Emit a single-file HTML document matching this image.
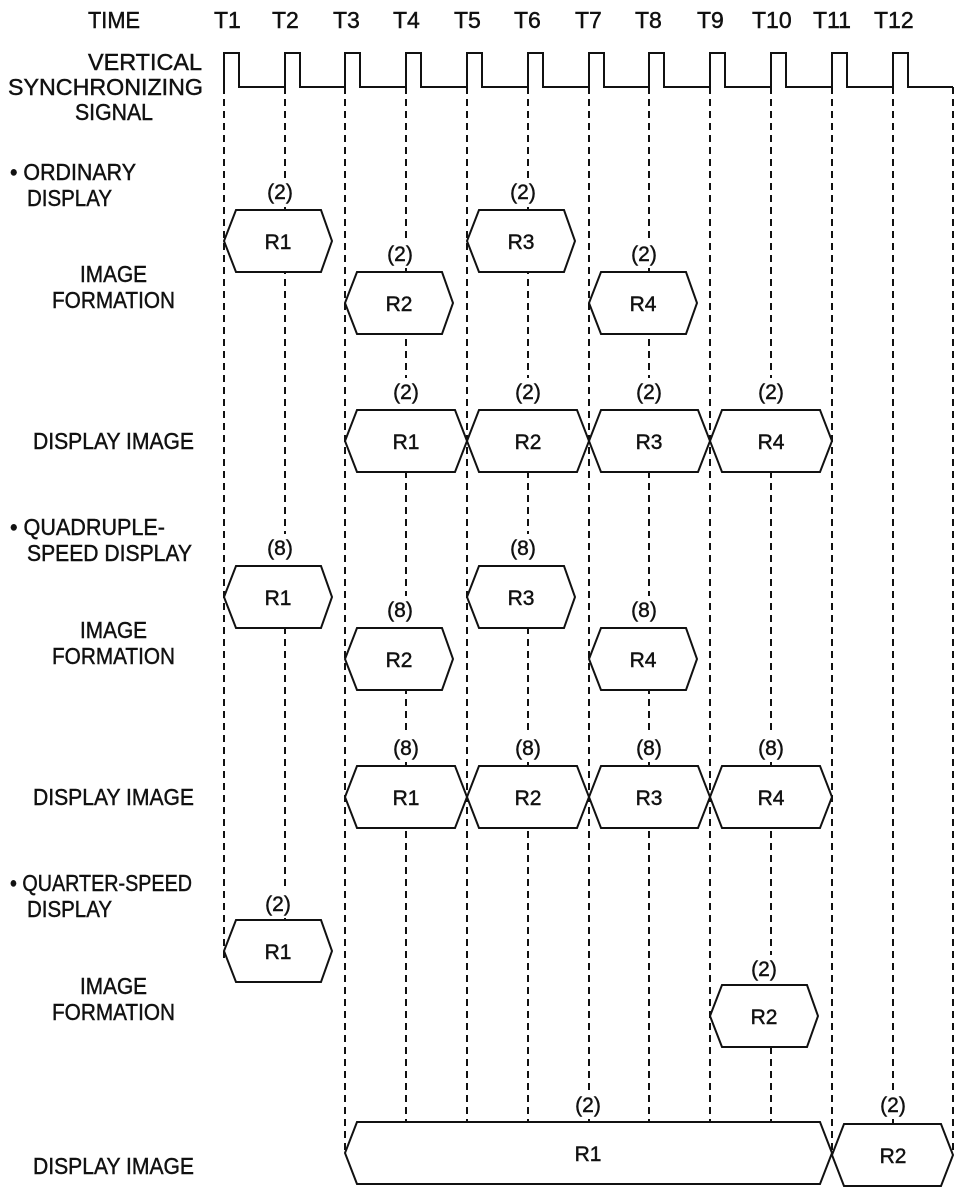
<!DOCTYPE html>
<html><head><meta charset="utf-8"><style>
html,body{margin:0;padding:0;background:#fff;}
svg{display:block;}
text{font-family:"Liberation Sans",Arial,sans-serif;fill:#111;stroke:#111;stroke-width:0.45;}
.l{font-size:23px;}
.s{font-size:21px;}
</style></head><body>
<svg width="967" height="1200" viewBox="0 0 967 1200" xmlns="http://www.w3.org/2000/svg">
<g stroke="#111" stroke-width="2" stroke-dasharray="7,5" fill="none">
<line x1="224" y1="87" x2="224" y2="958"/>
<line x1="285" y1="87" x2="285" y2="920"/>
<line x1="345" y1="87" x2="345" y2="1153"/>
<line x1="406" y1="87" x2="406" y2="1122"/>
<line x1="467" y1="87" x2="467" y2="1122"/>
<line x1="528" y1="87" x2="528" y2="1122"/>
<line x1="589" y1="87" x2="589" y2="1122"/>
<line x1="649" y1="87" x2="649" y2="1122"/>
<line x1="710" y1="87" x2="710" y2="1122"/>
<line x1="771" y1="87" x2="771" y2="1122"/>
<line x1="832" y1="87" x2="832" y2="1153"/>
<line x1="893" y1="87" x2="893" y2="1124"/>
<line x1="953" y1="87" x2="953" y2="1155"/>
</g>
<polyline fill="none" stroke="#111" stroke-width="2" points="224,87 224,53 239,53 239,87 285,87 285,53 300,53 300,87 345,87 345,53 360,53 360,87 406,87 406,53 421,53 421,87 467,87 467,53 482,53 482,87 528,87 528,53 543,53 543,87 589,87 589,53 604,53 604,87 649,87 649,53 664,53 664,87 710,87 710,53 725,53 725,87 771,87 771,53 786,53 786,87 832,87 832,53 847,53 847,87 893,87 893,53 908,53 908,87 953,87"/>
<g fill="#fff" stroke="#111" stroke-width="2">
<polygon points="224,241 236,210 321,210 332,241 321,272 236,272"/>
<polygon points="467,241 479,210 564,210 575,241 564,272 479,272"/>
<polygon points="345,303 357,272 442,272 453,303 442,334 357,334"/>
<polygon points="589,303 601,272 686,272 697,303 686,334 601,334"/>
<polygon points="345,441 357,410 455,410 467,441 455,472 357,472"/>
<polygon points="467,441 479,410 577,410 589,441 577,472 479,472"/>
<polygon points="589,441 601,410 698,410 710,441 698,472 601,472"/>
<polygon points="710,441 722,410 820,410 832,441 820,472 722,472"/>
<polygon points="224,597 236,566 321,566 332,597 321,628 236,628"/>
<polygon points="467,597 479,566 564,566 575,597 564,628 479,628"/>
<polygon points="345,659 357,628 442,628 453,659 442,690 357,690"/>
<polygon points="589,659 601,628 686,628 697,659 686,690 601,690"/>
<polygon points="345,797 357,766 455,766 467,797 455,828 357,828"/>
<polygon points="467,797 479,766 577,766 589,797 577,828 479,828"/>
<polygon points="589,797 601,766 698,766 710,797 698,828 601,828"/>
<polygon points="710,797 722,766 820,766 832,797 820,828 722,828"/>
<polygon points="224,951 236,920 321,920 332,951 321,982 236,982"/>
<polygon points="710,1016 722,985 807,985 818,1016 807,1047 722,1047"/>
<polygon points="345,1153 357,1122 820,1122 832,1153 820,1184 357,1184"/>
<polygon points="832,1155 844,1124 941,1124 953,1155 941,1186 844,1186"/>
</g>
<g fill="#fff">
<rect x="266" y="178" width="28" height="28"/><rect x="509" y="178" width="28" height="28"/>
<rect x="386" y="240" width="28" height="28"/><rect x="630" y="240" width="28" height="28"/>
<rect x="392" y="378" width="28" height="28"/><rect x="514" y="378" width="28" height="28"/><rect x="635" y="378" width="28" height="28"/><rect x="757" y="378" width="28" height="28"/>
<rect x="266" y="534" width="28" height="28"/><rect x="509" y="534" width="28" height="28"/>
<rect x="386" y="596" width="28" height="28"/><rect x="630" y="596" width="28" height="28"/>
<rect x="392" y="734" width="28" height="28"/><rect x="514" y="734" width="28" height="28"/><rect x="635" y="734" width="28" height="28"/><rect x="757" y="734" width="28" height="28"/>
<rect x="264" y="890" width="28" height="28"/><rect x="750" y="955" width="28" height="28"/>
<rect x="574" y="1091" width="28" height="28"/><rect x="879" y="1091" width="28" height="28"/>
</g>
<g class="l">
<text x="88" y="28" textLength="52" lengthAdjust="spacingAndGlyphs">TIME</text>
<text x="214" y="28">T1</text><text x="272" y="28">T2</text><text x="333" y="28">T3</text><text x="393" y="28">T4</text><text x="454" y="28">T5</text><text x="514" y="28">T6</text><text x="575" y="28">T7</text><text x="635" y="28">T8</text><text x="697" y="28">T9</text><text x="752" y="28">T10</text><text x="813" y="28">T11</text><text x="874" y="28">T12</text>
<text x="88" y="70" textLength="114" lengthAdjust="spacingAndGlyphs">VERTICAL</text>
<text x="8" y="95" textLength="195" lengthAdjust="spacingAndGlyphs">SYNCHRONIZING</text>
<text x="75" y="120" textLength="78" lengthAdjust="spacingAndGlyphs">SIGNAL</text>
<text x="10" y="180" textLength="126" lengthAdjust="spacingAndGlyphs">• ORDINARY</text>
<text x="27" y="206" textLength="85" lengthAdjust="spacingAndGlyphs">DISPLAY</text>
<text x="80" y="282" textLength="67" lengthAdjust="spacingAndGlyphs">IMAGE</text>
<text x="52" y="308" textLength="123" lengthAdjust="spacingAndGlyphs">FORMATION</text>
<text x="33" y="449" textLength="161" lengthAdjust="spacingAndGlyphs">DISPLAY IMAGE</text>
<text x="10" y="535" textLength="155" lengthAdjust="spacingAndGlyphs">• QUADRUPLE-</text>
<text x="27" y="561" textLength="165" lengthAdjust="spacingAndGlyphs">SPEED DISPLAY</text>
<text x="80" y="638" textLength="67" lengthAdjust="spacingAndGlyphs">IMAGE</text>
<text x="52" y="664" textLength="123" lengthAdjust="spacingAndGlyphs">FORMATION</text>
<text x="33" y="805" textLength="161" lengthAdjust="spacingAndGlyphs">DISPLAY IMAGE</text>
<text x="10" y="891" textLength="182" lengthAdjust="spacingAndGlyphs">• QUARTER-SPEED</text>
<text x="27" y="917" textLength="85" lengthAdjust="spacingAndGlyphs">DISPLAY</text>
<text x="80" y="994" textLength="67" lengthAdjust="spacingAndGlyphs">IMAGE</text>
<text x="52" y="1020" textLength="123" lengthAdjust="spacingAndGlyphs">FORMATION</text>
<text x="33" y="1174" textLength="161" lengthAdjust="spacingAndGlyphs">DISPLAY IMAGE</text>
</g>
<g class="s" text-anchor="middle">
<text x="280" y="199">(2)</text><text x="523" y="199">(2)</text><text x="400" y="261">(2)</text><text x="644" y="261">(2)</text>
<text x="278" y="249">R1</text><text x="521" y="249">R3</text><text x="399" y="311">R2</text><text x="643" y="311">R4</text>
<text x="406" y="399">(2)</text><text x="528" y="399">(2)</text><text x="649" y="399">(2)</text><text x="771" y="399">(2)</text>
<text x="406" y="449">R1</text><text x="528" y="449">R2</text><text x="649" y="449">R3</text><text x="771" y="449">R4</text>
<text x="280" y="555">(8)</text><text x="523" y="555">(8)</text><text x="400" y="617">(8)</text><text x="644" y="617">(8)</text>
<text x="278" y="605">R1</text><text x="521" y="605">R3</text><text x="399" y="667">R2</text><text x="643" y="667">R4</text>
<text x="406" y="755">(8)</text><text x="528" y="755">(8)</text><text x="649" y="755">(8)</text><text x="771" y="755">(8)</text>
<text x="406" y="805">R1</text><text x="528" y="805">R2</text><text x="649" y="805">R3</text><text x="771" y="805">R4</text>
<text x="278" y="911">(2)</text><text x="278" y="959">R1</text>
<text x="764" y="976">(2)</text><text x="764" y="1024">R2</text>
<text x="588" y="1112">(2)</text><text x="588" y="1161">R1</text>
<text x="893" y="1112">(2)</text><text x="893" y="1163">R2</text>
</g>
</svg>
</body></html>
